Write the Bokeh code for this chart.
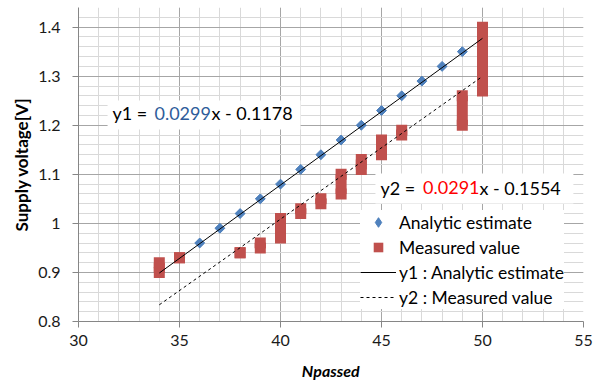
from bokeh.plotting import figure
from bokeh.models import (Range1d, SingleIntervalTicker, FixedTicker, Label, BoxAnnotation,
                          Legend, LegendItem, CustomJSTickFormatter, LinearAxis)
from bokeh.embed import file_html
from bokeh.resources import INLINE
import numpy as np

# ---------------- data ----------------
analytic_x = [34, 35, 36, 37, 38, 39, 40, 41, 42, 43, 44, 45, 46, 47, 48, 49, 50]
analytic_y = [0.90, 0.93, 0.96, 0.99, 1.02, 1.05, 1.08, 1.11, 1.14, 1.17, 1.20,
              1.23, 1.26, 1.29, 1.32, 1.35, 1.38]

measured_x = [34, 35, 38, 39, 40, 41, 42, 43, 44, 45, 46, 49, 50]
measured_min = [0.90, 0.93, 0.94, 0.95, 0.97, 1.02, 1.04, 1.06, 1.11, 1.14, 1.18, 1.20, 1.27]
measured_max = [0.92, 0.93, 0.94, 0.96, 1.01, 1.03, 1.05, 1.10, 1.13, 1.17, 1.19, 1.26, 1.40]

# trendline coefficients (as printed on the chart)
y1_slope, y1_icpt = 0.0299, -0.1178
y2_slope, y2_icpt = 0.0291, -0.1554

x_ticks_interval = 5
y_ticks_interval = 0.1

legend_labels = ["Analytic estimate", "Measured value",
                 "y1 : Analytic estimate", "y2 : Measured value"]
x_title_parts = ["N", "passed"]

# ---------------- styling ----------------
FONT = "Lato"
BLUE = "#4F81BD"
RED = "#C0504D"

p = figure(width=600, height=386, x_range=Range1d(30, 55), y_range=Range1d(0.8, 1.44),
           output_backend="svg", toolbar_location=None,
           min_border_left=78, min_border_right=17, min_border_top=7, min_border_bottom=65)
p.outline_line_color = None
p.background_fill_color = "white"

xa = p.below[0]
ya = p.left[0]

xt = SingleIntervalTicker(interval=x_ticks_interval, num_minor_ticks=5)
yt = SingleIntervalTicker(interval=y_ticks_interval, num_minor_ticks=5)
xa.ticker = xt
ya.ticker = yt
p.xgrid.ticker = xt
p.ygrid.ticker = yt
ya.formatter = CustomJSTickFormatter(code="return String(Math.round(tick*10)/10);")

for g in (p.xgrid, p.ygrid):
    g.grid_line_color = "#A6A6A6"
    g.grid_line_width = 1
    g.minor_grid_line_color = "#D9D9D9"
    g.minor_grid_line_width = 1

for ax in (xa, ya):
    ax.axis_line_color = "#868686"
    ax.major_tick_line_color = "#868686"
    ax.minor_tick_line_color = None
    ax.major_tick_in = 0
    ax.major_tick_out = 6
    ax.major_label_text_font = FONT
    ax.major_label_text_font_size = "16px"
    ax.major_label_text_color = "#1a1a1a"

xa.major_label_standoff = 7
ya.major_label_standoff = 12
ya.axis_label = "Supply voltage[V]"
ya.axis_label_text_font = FONT
ya.axis_label_text_font_style = "bold"
ya.axis_label_text_font_size = "17px"
ya.axis_label_text_color = "#000000"
ya.axis_label_standoff = 3

# x-axis title "N passed" drawn as tick labels of an extra, line-less axis
title_axis = LinearAxis(ticker=FixedTicker(ticks=[41.34, 42.77], minor_ticks=[]),
                        formatter=CustomJSTickFormatter(args=dict(labels=x_title_parts),
                                                        code="return labels[index];"))
title_axis.axis_line_color = None
title_axis.major_tick_line_color = None
title_axis.minor_tick_line_color = None
title_axis.major_tick_in = 0
title_axis.major_tick_out = 0
title_axis.major_label_standoff = 12
title_axis.major_label_text_font = FONT
title_axis.major_label_text_font_size = "16px"
title_axis.major_label_text_font_style = "bold italic"
title_axis.major_label_text_color = "black"
p.add_layout(title_axis, "below")

# ---------------- glyphs ----------------
p.scatter(analytic_x, analytic_y, marker="square", size=7, angle=np.pi / 4,
          fill_color=BLUE, line_color="#4A7EBB", line_width=1)
# hidden proxy so that the legend shows an upright diamond
r_an = p.scatter(analytic_x, analytic_y, marker="diamond", size=13,
                 fill_color=BLUE, line_color="#4A7EBB", visible=False)

mid = [(a + b) / 2 for a, b in zip(measured_min, measured_max)]
hgt = [b - a for a, b in zip(measured_min, measured_max)]
p.rect(x=measured_x, y=mid, width=11, width_units="screen", height=hgt,
       fill_color=RED, line_color=None)
r_me = p.scatter(measured_x, measured_min, marker="square", size=11,
                 fill_color=RED, line_color=None)
p.scatter(measured_x, measured_max, marker="square", size=11,
          fill_color=RED, line_color=None)

tx = [min(measured_x + analytic_x), max(measured_x + analytic_x)]
r_l1 = p.line(tx, [y1_slope * v + y1_icpt for v in tx], line_color="black", line_width=1)
r_l2 = p.line(tx, [y2_slope * v + y2_icpt for v in tx], line_color="black", line_width=1,
              line_dash="3 3")

# ---------------- equation labels ----------------
p.add_layout(BoxAnnotation(left=31.44, right=40.99, bottom=1.1913, top=1.2504,
                           fill_color="white", fill_alpha=1, line_color=None))
p.add_layout(BoxAnnotation(left=44.70, right=54.50, bottom=1.0405, top=1.1017,
                           fill_color="white", fill_alpha=1, line_color=None))

def seg(x, y, txt, color):
    p.add_layout(Label(x=x, y=y, text=txt, text_font=FONT, text_font_size="18px",
                       text_color=color, text_align="left", text_baseline="alphabetic"))

Y1_BASE, Y2_BASE = 1.2246, 1.0731
seg(31.68, Y1_BASE, "y1 =", "black")
seg(33.76, Y1_BASE, f"{y1_slope:.4f}", "#2E5C9A")
seg(36.58, Y1_BASE, f"x - {abs(y1_icpt):.4f}", "black")
seg(44.95, Y2_BASE, "y2 =", "black")
seg(47.06, Y2_BASE, f"{y2_slope:.4f}", "#FF0000")
seg(49.85, Y2_BASE, f"x - {abs(y2_icpt):.4f}", "black")

# ---------------- legend ----------------
legend = Legend(items=[LegendItem(label=legend_labels[0], renderers=[r_an]),
                       LegendItem(label=legend_labels[1], renderers=[r_me]),
                       LegendItem(label=legend_labels[2], renderers=[r_l1]),
                       LegendItem(label=legend_labels[3], renderers=[r_l2])],
                location=(282, 12))
legend.label_text_font = FONT
legend.label_text_font_size = "17.5px"
legend.label_text_color = "black"
legend.glyph_width = 36
legend.glyph_height = 24
legend.spacing = 1
legend.padding = 2
legend.margin = 0
legend.label_standoff = 3
legend.border_line_color = None
legend.background_fill_color = "white"
legend.background_fill_alpha = 1
legend.inactive_fill_alpha = 0
p.add_layout(legend)

open("out.html", "w").write(file_html(p, INLINE))
